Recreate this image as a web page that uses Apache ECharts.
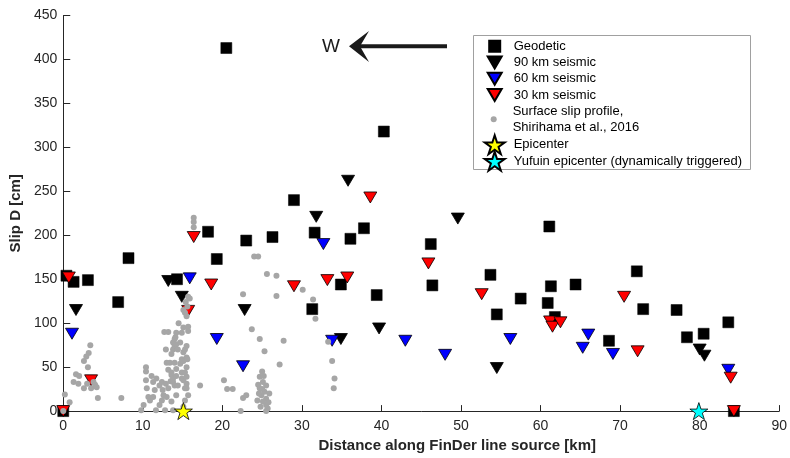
<!DOCTYPE html>
<html><head><meta charset="utf-8">
<script src="https://cdn.jsdelivr.net/npm/echarts@6/dist/echarts.min.js"></script>
<style>html,body{margin:0;padding:0;background:#fff}#c{width:790px;height:458px}</style>
</head><body><div id="c"></div>
<script>
// ---- data (km along FinDer line source, slip in cm) ----
var xTicks = [0,10,20,30,40,50,60,70,80,90];
var yTicks = [0,50,100,150,200,250,300,350,400,450];
var geodetic = [[0,0],[0.4,154],[1.3,147],[3.1,149],[6.9,124],[8.2,174],[14.3,150],[18.2,204],[19.3,173],[20.5,413],
 [23.0,194],[26.3,198],[29.0,240],[31.3,116],[31.6,203],[34.9,144],[36.1,196],[37.8,208],[39.4,132],[40.3,318],
 [46.2,190],[46.4,143],[53.7,155],[54.5,110],[57.5,128],[60.9,123],[61.1,210],[61.3,142],[61.8,107],[64.4,144],
 [68.6,80],[72.1,159],[72.9,116],[77.1,115],[78.4,84],[80.5,88],[83.6,101],[84.3,0]];
var seis90 = [[1.6,115],[13.2,148],[14.9,130],[22.8,115],[31.8,221],[34.9,82],[35.8,262],[39.7,94],[49.6,219],[54.5,49],[80.0,70],[80.6,63]];
var seis60 = [[1.1,88],[15.9,151],[19.3,82],[22.6,51],[32.7,190],[33.8,80],[43.0,80],[48.0,64],[56.2,82],[65.3,72],[66.0,87],[69.1,65],[83.6,47]];
var seis30 = [[0,0],[0.7,152],[3.5,35],[15.7,114],[16.4,198],[18.6,144],[29.0,142],[33.2,149],[35.7,152],[38.6,243],[45.9,168],
 [52.6,133],[61.2,102],[61.5,96],[62.5,101],[70.5,130],[72.2,68],[83.9,38],[84.3,0]];
var surface = [[0.0,0],[0.2,19],[0.8,10],[1.3,33],[1.6,42],[2.0,40],[1.9,31],[2.6,26],[2.6,57],[2.9,62],[3.2,66],[3.4,75],[3.1,50],
 [3.0,31],[3.5,26],[3.8,33],[4.0,30],[4.2,27],[4.35,15],[7.3,15],
 [9.8,1],[10.1,7],[10.4,50],[10.4,45],[10.4,35],[10.5,26],[10.7,16],[10.9,12],[11.1,40],[11.3,33],[11.3,16],[11.5,24],[11.7,37],
 [11.65,1],[12.1,29],[12.1,7],[12.4,33],[12.4,12],[12.5,24],[12.6,18],[12.8,1],[12.7,90],[12.9,70],[12.9,31],[13.0,55],[13.0,16],
 [13.2,90],[13.2,47],[13.2,26],[13.4,55],[13.5,34],[13.6,41],[13.6,65],[13.6,44],[13.6,11],[13.8,78],[13.8,70],[13.8,37],[13.8,33],
 [13.8,1],[14.0,82],[14.0,74],[14.0,55],[14.0,29],[14.1,84],[14.2,89],[14.2,76],[14.2,48],[14.2,40],[14.2,18],[14.4,70],[14.4,29],
 [14.5,100],[14.7,78],[14.7,54],[14.9,89],[14.9,59],[14.9,44],[14.9,37],[15.1,95],[15.1,67],[15.1,57],[15.1,35],[15.1,5],[15.1,115],
 [15.3,112],[15.3,70],[15.3,44],[15.3,26],[15.3,12],[15.4,124],[15.5,108],[15.5,74],[15.5,61],[15.5,50],[15.5,39],[15.5,31],[15.5,26],
 [15.6,119],[15.6,59],[15.7,130],[15.7,96],[15.7,91],[15.7,18],[15.9,128],[16.4,220],[16.4,215],[16.4,209],[17.2,29],
 [20.2,35],[20.6,25],[21.3,25],[22.3,0],[22.6,15],[23.0,18],[22.6,133],[23.7,93],[24.0,176],[24.5,176],[24.7,82],[25.3,68],[25.6,156],
 [26.8,154],[26.8,131],[27.7,80],[27.2,53],[25.0,45],[24.7,39],[25.1,33],[25.5,29],[24.7,26],[25.3,22],[24.9,18],[25.5,14],[25.1,11],
 [25.5,7],[25.7,3],[25.5,0],[24.5,30],[24.6,20],[25.0,25],[25.2,40],[25.8,10],[24.8,5],[25.9,20],[24.4,12],
 [30.1,138],[31.4,127],[31.7,105],[33.3,79],[33.8,57],[34.1,37],[34.0,26]];
var epicenter = [[15.1,0]];
var yufuin = [[79.9,0]];
var seriesNames = ['Geodetic','90 km seismic','60 km seismic','30 km seismic','Surface slip profile,\nShirihama et al., 2016','Epicenter','Yufuin epicenter (dynamically triggered)'];

var STAR = 'path://M50,0L61.23,34.55L97.55,34.55L68.16,55.9L79.39,90.45L50,69.1L20.61,90.45L31.84,55.9L2.45,34.55L38.77,34.55Z';
var TRI = 'path://M0,0L14,0L7,12Z';
var SQ = 'path://M0,0L10,0L10,10L0,10Z';
var DOT = 'path://M0,5a5,5 0 1,0 10,0a5,5 0 1,0 -10,0Z';
var FONT = 'Liberation Sans, Arial, Helvetica, sans-serif';
var TXT = '#262626';
var ICON_CX = 493.7;

function legendRow(name, icon, ih, iw, centerY, lines){
  var th = 16 * (lines || 1);
  var h = Math.max(ih, th);
  return {
    data:[{name:name, icon:icon}], orient:'vertical', left:ICON_CX - iw/2, top:centerY - h/2,
    itemWidth:28, itemHeight:ih, padding:0, selectedMode:false, symbolKeepAspect:true, z:10,
    textStyle:{fontSize:13, lineHeight:16, color:'#000', fontFamily:FONT}
  };
}

var chart = echarts.init(document.getElementById('c'), null, {renderer:'canvas'});
chart.setOption({
  animation:false,
  backgroundColor:'#fff',
  grid:{left:63, right:8, top:15.5, bottom:42},
  xAxis:{type:'value', min:xTicks[0], max:xTicks[xTicks.length-1], interval:10,
    name:'Distance along FinDer line source [km]', nameLocation:'middle', nameGap:23,
    nameTextStyle:{fontSize:15, fontWeight:'bold', color:TXT, fontFamily:FONT, padding:[0,0,0,72]},
    axisLine:{lineStyle:{color:TXT, width:1}}, axisTick:{inside:true, length:6, lineStyle:{color:TXT}},
    axisLabel:{fontSize:14, color:TXT, fontFamily:FONT, margin:8}, splitLine:{show:false}},
  yAxis:{type:'value', min:yTicks[0], max:yTicks[yTicks.length-1], interval:50,
    name:'Slip D [cm]', nameLocation:'middle', nameGap:33,
    nameTextStyle:{fontSize:15, fontWeight:'bold', color:TXT, fontFamily:FONT},
    axisLine:{show:true, lineStyle:{color:TXT, width:1}}, axisTick:{show:true, inside:true, length:7, lineStyle:{color:TXT}},
    axisLabel:{fontSize:14, color:TXT, fontFamily:FONT, margin:6}, splitLine:{show:false}},
  legend:[
    legendRow(seriesNames[0], SQ, 11, 11, 46.3),
    legendRow(seriesNames[1], TRI, 12, 14, 62.5),
    legendRow(seriesNames[2], TRI, 12, 14, 78.8),
    legendRow(seriesNames[3], TRI, 12, 14, 95.1),
    legendRow(seriesNames[4], DOT, 6, 6, 119.2, 2),
    legendRow(seriesNames[5], STAR, 19, 19.98, 143.7),
    legendRow(seriesNames[6], STAR, 19, 19.98, 160.2)
  ],
  graphic:[
    {type:'rect', z:5, shape:{x:473.5, y:35.5, width:277, height:134}, style:{fill:'#fff', stroke:'#a0a0a0', lineWidth:1}},
    {type:'text', z:5, style:{x:331, y:47, text:'W', font:'19px '+FONT, fill:'#1a1a1a', align:'center', verticalAlign:'middle'}},
    {type:'line', z:5, shape:{x1:360, y1:46.3, x2:447, y2:46.3}, style:{stroke:'#1a1a1a', lineWidth:4}},
    {type:'polygon', z:5, shape:{points:[[349,46.3],[369,31],[360,46.3],[369,62]]}, style:{fill:'#1a1a1a'}}
  ],
  series:[
    {name:seriesNames[1], type:'scatter', data:seis90, symbol:'triangle', symbolRotate:180, symbolSize:[13,11],
      itemStyle:{color:'#000', borderColor:'#000', borderWidth:0.8, opacity:1}, z:2},
    {name:seriesNames[0], type:'scatter', data:geodetic, symbol:'rect', symbolSize:11,
      itemStyle:{color:'#000', borderColor:'#000', borderWidth:0.5, opacity:1}, z:2},
    {name:seriesNames[2], type:'scatter', data:seis60, symbol:'triangle', symbolRotate:180, symbolSize:[13,11],
      itemStyle:{color:'#0000ff', borderColor:'#000', borderWidth:0.8, opacity:1}, z:2},
    {name:seriesNames[3], type:'scatter', data:seis30, symbol:'triangle', symbolRotate:180, symbolSize:[13,11],
      itemStyle:{color:'#ff0000', borderColor:'#000', borderWidth:0.8, opacity:1}, z:2},
    {name:seriesNames[4], type:'scatter', data:surface, symbol:'circle', symbolSize:6,
      itemStyle:{color:'#a6a6a6', borderWidth:0, opacity:1}, z:2},
    {name:seriesNames[5], type:'scatter', data:epicenter, symbol:STAR, symbolSize:[18,17],
      itemStyle:{color:'#ffff00', borderColor:'#000', borderWidth:0.8, opacity:1}, z:3},
    {name:seriesNames[6], type:'scatter', data:yufuin, symbol:STAR, symbolSize:[18,17],
      itemStyle:{color:'#00ffff', borderColor:'#000', borderWidth:0.8, opacity:1}, z:3}
  ]
});
</script></body></html>
